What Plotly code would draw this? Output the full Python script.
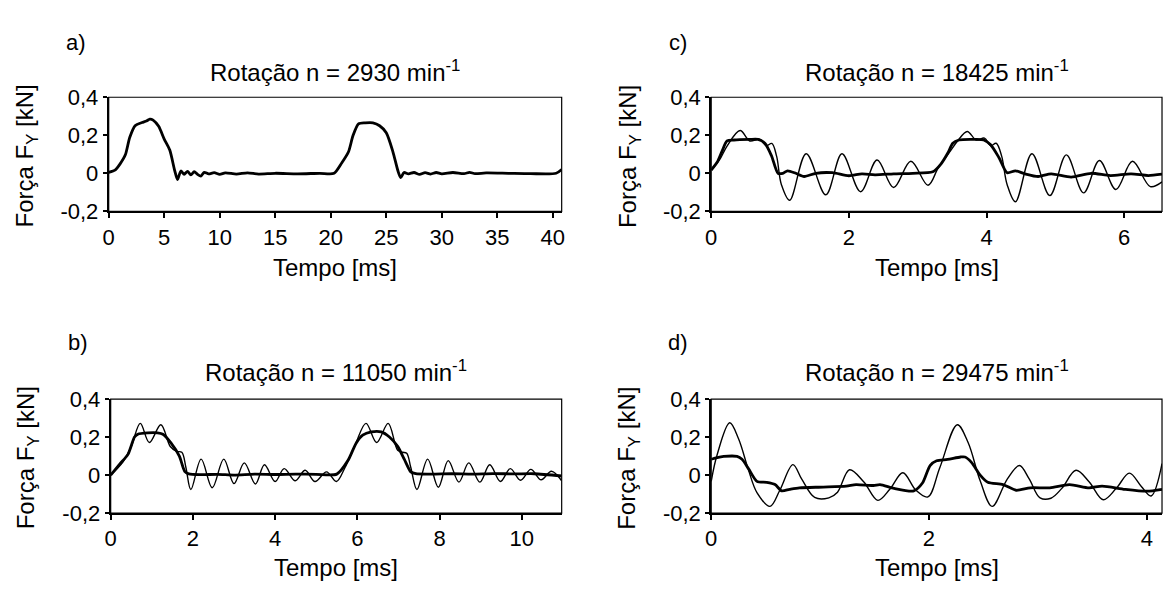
import plotly.graph_objects as go

# ---------------- data ----------------
# a) n = 2930 min^-1
a_time = [0, 0.6, 1.0, 1.5, 1.9, 2.4, 3.0, 3.4, 3.7, 4.0, 4.5, 5.0, 5.5, 5.95, 6.2, 6.5, 6.8, 7.1, 7.4, 7.7,
          8.0, 8.3, 8.6, 9.0, 9.5, 10.0, 10.5, 11.5, 12.5, 13.5, 15.0, 17.0, 19.0, 20.3, 21.0, 21.6, 22.0, 22.5, 23.1, 23.8,
          24.4, 25.0, 25.6, 26.05, 26.3, 26.6, 27.0, 27.5, 28.0, 28.5, 29.0, 29.5, 30.0, 31.0, 32.0, 32.5, 33.0, 34.0, 36.0, 38.0,
          40.3, 40.8]
a_force = [0.005, 0.018, 0.047, 0.097, 0.19, 0.252, 0.267, 0.275, 0.285, 0.28, 0.247, 0.18, 0.122, 0.013, -0.033, 0.012, -0.005, 0.01, -0.008, 0.008,
           -0.006, -0.015, 0.005, -0.003, 0.003, -0.006, 0.002, -0.004, 0.002, -0.004, 0.0, -0.003, 0.0, 0.0, 0.055, 0.113, 0.197, 0.26, 0.265, 0.265,
           0.25, 0.213, 0.113, 0.013, -0.023, 0.004, -0.003, 0.004, -0.006, 0.003, -0.004, 0.004, -0.003, 0.004, -0.002, 0.005, -0.002, 0.002, 0.0, -0.002,
           0.0, 0.02]

# b) n = 11050 min^-1
b_time_mean = [0, 0.22, 0.42, 0.58, 0.66, 0.9, 1.14, 1.27, 1.47, 1.67, 1.8, 1.9, 2.2, 2.6, 3.0, 3.5, 4.0, 4.5, 5.0, 5.5,
               5.77, 5.97, 6.13, 6.34, 6.58, 6.78, 6.98, 7.14, 7.3, 7.42, 7.8, 8.3, 8.8, 9.3, 9.8, 10.3, 10.97]
b_force_mean = [0, 0.058, 0.109, 0.2, 0.215, 0.222, 0.222, 0.215, 0.168, 0.1, 0.02, 0.006, 0.002, 0.004, 0.0, 0.005, 0.003, 0.005, 0.004, 0.005,
                0.076, 0.168, 0.21, 0.227, 0.227, 0.2, 0.151, 0.084, 0.017, 0.007, 0.005, 0.007, 0.005, 0.008, 0.006, 0.007, -0.005]
b_time_raw = [0, 0.3, 0.5, 0.72, 0.94, 1.22, 1.45, 1.6, 1.73, 1.83, 1.95, 2.2, 2.47, 2.75, 3.0, 3.25, 3.52, 3.74, 4.0, 4.22,
              4.49, 4.73, 4.97, 5.25, 5.49, 5.7, 5.95, 6.21, 6.47, 6.75, 6.98, 7.1, 7.2, 7.3, 7.45, 7.71, 7.97, 8.21, 8.47, 8.71,
              8.98, 9.22, 9.48, 9.72, 9.97, 10.22, 10.47, 10.72, 10.97]
b_force_raw = [0, 0.07, 0.15, 0.272, 0.171, 0.265, 0.15, 0.125, 0.12, 0.04, -0.076, 0.084, -0.067, 0.084, -0.045, 0.064, -0.047, 0.054, -0.034, 0.034,
               -0.03, 0.025, -0.034, 0.017, -0.034, 0.04, 0.16, 0.272, 0.171, 0.272, 0.13, 0.12, 0.115, 0.04, -0.076, 0.084, -0.064, 0.076, -0.037, 0.064,
               -0.037, 0.054, -0.034, 0.034, -0.027, 0.03, -0.025, 0.02, -0.03]

# c) n = 18425 min^-1
c_time_mean = [0, 0.086, 0.158, 0.23, 0.33, 0.56, 0.68, 0.78, 0.876, 0.97, 1.04, 1.11, 1.23, 1.35, 1.52, 1.76, 2.0, 2.19, 2.38, 2.65,
               2.93, 3.22, 3.34, 3.44, 3.51, 3.6, 3.84, 3.96, 4.06, 4.18, 4.3, 4.42, 4.56, 4.75, 4.94, 5.23, 5.52, 5.8, 6.1, 6.35, 6.55]
c_force_mean = [0.017, 0.058, 0.117, 0.17, 0.175, 0.178, 0.178, 0.158, 0.092, 0.0, 0.0, 0.013, 0.0, -0.017, 0.0, 0.003, -0.013, -0.003, -0.008, -0.003,
                0.0, 0.008, 0.05, 0.108, 0.158, 0.175, 0.178, 0.175, 0.15, 0.083, 0.003, 0.013, -0.003, -0.017, -0.003, -0.02, 0.0, -0.012, -0.003, -0.012, -0.005]
c_time_raw = [0, 0.12, 0.23, 0.42, 0.56, 0.7, 0.8, 0.88, 0.95, 1.02, 1.14, 1.38, 1.665, 1.9, 2.17, 2.41, 2.65, 2.9, 3.15, 3.3,
              3.46, 3.58, 3.72, 3.85, 3.97, 4.06, 4.14, 4.22, 4.3, 4.42, 4.66, 4.92, 5.16, 5.41, 5.64, 5.88, 6.12, 6.38, 6.55]
c_force_raw = [0.017, 0.07, 0.143, 0.225, 0.17, 0.18, 0.145, 0.157, 0.09, -0.06, -0.142, 0.103, -0.113, 0.103, -0.097, 0.07, -0.075, 0.063, -0.063, 0.03,
               0.11, 0.17, 0.22, 0.175, 0.185, 0.145, 0.158, 0.09, -0.06, -0.15, 0.103, -0.117, 0.097, -0.103, 0.067, -0.085, 0.063, -0.07, -0.045]

# d) n = 29475 min^-1
d_time_mean = [0, 0.055, 0.115, 0.237, 0.283, 0.343, 0.42, 0.51, 0.586, 0.647, 0.72, 0.81, 1.03, 1.24, 1.33, 1.49, 1.55, 1.68, 1.86, 1.94,
               2.01, 2.07, 2.17, 2.29, 2.33, 2.39, 2.47, 2.54, 2.68, 2.8, 2.93, 3.11, 3.29, 3.47, 3.59, 3.8, 4.0, 4.14]
d_force_mean = [0.083, 0.092, 0.098, 0.098, 0.083, 0.033, -0.033, -0.038, -0.05, -0.083, -0.075, -0.067, -0.063, -0.058, -0.05, -0.055, -0.05, -0.07, -0.083, -0.042,
                0.05, 0.075, 0.082, 0.095, 0.095, 0.067, 0.0, -0.038, -0.05, -0.08, -0.067, -0.067, -0.05, -0.067, -0.058, -0.075, -0.085, -0.075]
d_time_raw = [0, 0.055, 0.17, 0.25, 0.343, 0.42, 0.54, 0.63, 0.75, 0.83, 0.95, 1.08, 1.16, 1.27, 1.4, 1.53, 1.64, 1.76, 1.88, 1.99,
              2.1, 2.26, 2.36, 2.47, 2.58, 2.72, 2.83, 2.92, 3.02, 3.12, 3.22, 3.35, 3.47, 3.6, 3.72, 3.84, 3.95, 4.04, 4.14]
d_force_raw = [-0.033, 0.108, 0.275, 0.192, 0.025, -0.092, -0.165, -0.08, 0.055, -0.02, -0.118, -0.12, -0.09, 0.028, -0.035, -0.133, -0.075, 0.012, -0.08, -0.115,
               0.04, 0.265, 0.17, -0.03, -0.165, -0.02, 0.05, -0.02, -0.12, -0.122, -0.07, 0.025, -0.035, -0.13, -0.07, 0.01, -0.06, -0.11, 0.06]

panel_letters = ["a)", "c)", "b)", "d)"]
panel_titles = ["Rotação n = 2930 min<sup>-1</sup>", "Rotação n = 18425 min<sup>-1</sup>",
                "Rotação n = 11050 min<sup>-1</sup>", "Rotação n = 29475 min<sup>-1</sup>"]
x_ranges = [[0, 40.8], [0, 6.55], [0, 10.97], [0, 4.14]]
x_tickvals = [[0, 5, 10, 15, 20, 25, 30, 35, 40], [0, 2, 4, 6], [0, 2, 4, 6, 8, 10], [0, 2, 4]]
y_tickvals = [-0.2, 0, 0.2, 0.4]
y_ticktext = ["-0,2", "0", "0,2", "0,4"]
x_label = "Tempo [ms]"
y_label = "Força F<sub>Y</sub> [kN]"

# ---------------- layout geometry (pixels) ----------------
W, H = 1167, 596
FONT = "Liberation Sans, Arial, sans-serif"
# plot boxes: (left, right, top, bottom) in px
boxes = [(103.5, 560, 89, 208), (710.7, 1165, 89, 208),
         (105.5, 560, 404, 523), (710.7, 1165, 404, 523)]

def px(x):
    return x / W

def py(y):
    return 1 - y / H

fig = go.Figure()

thick = dict(color="black", width=2.8, shape="spline", smoothing=0.7)
thin = dict(color="black", width=1.4, shape="spline", smoothing=1.0)

series = [
    [(a_time, a_force, thick)],
    [(c_time_raw, c_force_raw, thin), (c_time_mean, c_force_mean, thick)],
    [(b_time_raw, b_force_raw, thin), (b_time_mean, b_force_mean, thick)],
    [(d_time_raw, d_force_raw, thin), (d_time_mean, d_force_mean, thick)],
]

def note(text, x, y, size, angle=0):
    return dict(text=text, x=px(x), y=py(y), xref="paper", yref="paper", showarrow=False,
                xanchor="center", yanchor="middle", textangle=angle,
                font=dict(family=FONT, size=size, color="black"))

annotations = []
shapes = []
layout_axes = {}
for i, (box, ser) in enumerate(zip(boxes, series)):
    k = "" if i == 0 else str(i + 1)
    for (t, f, ln) in ser:
        fig.add_trace(go.Scatter(x=t, y=f, mode="lines", line=ln, xaxis="x" + k, yaxis="y" + k,
                                 showlegend=False, hoverinfo="skip"))
    l, r, tp, bt = box
    layout_axes["xaxis" + k] = dict(
        domain=[px(l), px(r)], anchor="y" + k, range=x_ranges[i],
        tickvals=x_tickvals[i], ticks="outside", ticklen=5, tickwidth=1.5, tickcolor="black",
        showline=True, linewidth=2, linecolor="black", showgrid=False, zeroline=False,
        tickfont=dict(family=FONT, size=22, color="black"))
    layout_axes["yaxis" + k] = dict(
        domain=[py(bt), py(tp)], anchor="x" + k, range=[-0.2, 0.4],
        tickvals=y_tickvals, ticktext=y_ticktext, ticks="outside", ticklen=4, tickwidth=1.5, tickcolor="black",
        showline=True, linewidth=2, linecolor="black", showgrid=False, zeroline=False,
        tickfont=dict(family=FONT, size=22, color="black"))
    shapes.append(dict(type="rect", xref="x" + k + " domain", yref="y" + k + " domain",
                       x0=0, x1=1, y0=0, y1=1, line=dict(color="black", width=1.2), layer="above"))
    cx = (l + r) / 2
    off = 0 if tp < 300 else 313
    annotations.append(note(panel_letters[i], l - 33, 32 + off, 22))
    annotations.append(note(panel_titles[i], cx, 62 + off, 24))
    annotations.append(note(x_label, cx, 267 + off, 24))
    annotations.append(note(y_label, l - 83, (tp + bt) / 2 + 2, 24, -90))

fig.update_layout(
    width=W, height=H, margin=dict(l=0, r=0, t=0, b=0),
    paper_bgcolor="white", plot_bgcolor="white",
    annotations=annotations, shapes=shapes, showlegend=False,
    **layout_axes)

fig.write_html("out.html")
